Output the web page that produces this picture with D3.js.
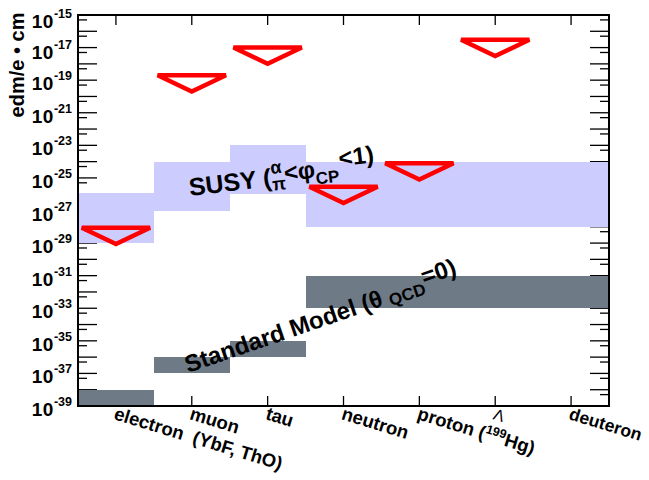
<!DOCTYPE html>
<html><head><meta charset="utf-8">
<script src="https://cdn.jsdelivr.net/npm/d3@7"></script>
<style>body{margin:0;background:#fff}svg{display:block}text{font-family:"Liberation Sans",Arial,sans-serif}</style>
</head><body>
<svg id="c" width="649" height="480"></svg>
<script>
const categories = ["electron", "muon", "tau", "neutron", "proton", "Λ", "deuteron"];
const catPos = [1, 2, 3, 4, 5, 6, 7];
const susyLow  = [1e-29, 1e-27, 1e-26, 1e-28, 1e-28, 1e-28, 1e-28];
const susyHigh = [1.2e-26, 1e-24, 1e-23, 1e-24, 1e-24, 1e-24, 1e-24];
const smLow  = [1e-39, 1e-37, 1e-36, 1e-33, 1e-33, 1e-33, 1e-33];
const smHigh = [1e-38, 1e-36, 1e-35, 1e-31, 1e-31, 1e-31, 1e-31];
const limits = [8.7e-29, 2e-19, 1e-17, 2.9e-26, 7.9e-25, 3e-17, null];
const yMajorExp = d3.range(-15, -40, -1);
const yLabelExp = [-15, -17, -19, -21, -23, -25, -27, -29, -31, -33, -35, -37, -39];

const svg = d3.select("#c");
const L = 78, R = 609, T = 15, B = 406;
const x = d3.scaleLinear().domain([0.5, 7.5]).range([L, R]);
const y = d3.scaleLog().domain([1e-39, 1e-15]).range([B, T]);

// ticks
const tk = svg.append("g").attr("stroke", "#000").attr("stroke-width", 1.3);
yMajorExp.forEach(e => {
  const v = Math.pow(10, e);
  tk.append("line").attr("x1", L).attr("x2", L + 19).attr("y1", y(v)).attr("y2", y(v));
  tk.append("line").attr("x1", R).attr("x2", R - 19).attr("y1", y(v)).attr("y2", y(v));
  const m = 5 * Math.pow(10, e - 1);
  if (m > 1e-39) {
    tk.append("line").attr("x1", L).attr("x2", L + 9).attr("y1", y(m)).attr("y2", y(m));
    tk.append("line").attr("x1", R).attr("x2", R - 9).attr("y1", y(m)).attr("y2", y(m));
  }
});
catPos.forEach(c => {
  tk.append("line").attr("x1", x(c)).attr("x2", x(c)).attr("y1", B).attr("y2", B - 10);
  tk.append("line").attr("x1", x(c)).attr("x2", x(c)).attr("y1", T).attr("y2", T + 10);
});

// bands
svg.append("g").selectAll("rect").data(catPos).join("rect")
  .attr("x", (c) => x(c - 0.5)).attr("width", (c) => x(c + 0.5) - x(c - 0.5))
  .attr("y", (c, i) => y(susyHigh[i])).attr("height", (c, i) => y(susyLow[i]) - y(susyHigh[i]))
  .attr("fill", "#ccccff").attr("shape-rendering", "crispEdges");
svg.append("g").selectAll("rect").data(catPos).join("rect")
  .attr("x", (c) => x(c - 0.5)).attr("width", (c) => x(c + 0.5) - x(c - 0.5))
  .attr("y", (c, i) => y(smHigh[i])).attr("height", (c, i) => y(smLow[i]) - y(smHigh[i]))
  .attr("fill", "#6e7b87").attr("shape-rendering", "crispEdges");

// frame
svg.append("rect").attr("x", L).attr("y", T).attr("width", R - L).attr("height", B - T)
  .attr("fill", "none").attr("stroke", "#000").attr("stroke-width", 2);

// limit triangles
const tri = catPos.map((c, i) => limits[i] == null ? null : [
  [x(c - 0.45), y(limits[i])], [x(c + 0.45), y(limits[i])], [x(c), y(limits[i] / 10)]
]).filter(d => d);
svg.append("g").selectAll("path").data(tri).join("path")
  .attr("d", d => d3.line()(d) + "Z")
  .attr("fill", "none").attr("stroke", "#ff0000").attr("stroke-width", 4.5).attr("stroke-linejoin", "miter");

// y tick labels
yLabelExp.forEach(e => {
  const t = svg.append("text").attr("x", 72).attr("y", y(Math.pow(10, e)) + (e === -15 ? 13 : e === -17 ? 11.5 : 10))
    .attr("text-anchor", "end").attr("font-weight", "bold").attr("font-size", 19);
  t.append("tspan").attr("letter-spacing", 0.5).text("10");
  t.append("tspan").attr("dy", -10).attr("font-size", 12.5).text(String(e));
});

// y title
svg.append("text").attr("transform", "translate(24,65) rotate(-90)")
  .attr("text-anchor", "middle").attr("font-weight", "bold").attr("font-size", 20)
  .text("edm/e • cm");

// x labels
catPos.forEach((c, i) => {
  const g = svg.append("text").attr("transform", `translate(${x(c) - 3},419) rotate(17)`)
    .attr("font-weight", "bold").attr("font-size", 18.5);
  if (i === 0) {
    g.attr("xml:space", "preserve").text("electron  (YbF, ThO)");
  } else if (i === 4) {
    g.append("tspan").text("proton (");
    g.append("tspan").attr("dy", -7).attr("font-size", 12.5).text("199");
    g.append("tspan").attr("dy", 7).text("Hg)");
  } else if (i === 5) {
    g.attr("font-weight", "normal").attr("font-size", 16).attr("font-family", "Liberation Serif, serif")
      .text(categories[i]);
  } else if (i === 6) {
    g.attr("font-size", 17.5).text(categories[i]);
  } else {
    g.text(categories[i]);
  }
});

// SUSY annotation
const s = svg.append("g").attr("transform", "translate(190,196) rotate(-7)")
  .attr("font-weight", "bold");
s.append("text").attr("font-size", 25).attr("x", 0).attr("y", 0).text("SUSY (");
s.append("text").attr("font-size", 18).attr("x", 83).attr("y", -12).text("α");
s.append("text").attr("font-size", 18).attr("x", 83).attr("y", 5).text("π");
s.append("text").attr("font-size", 24).attr("x", 96).attr("y", -3).text("<φ");
s.append("text").attr("font-size", 17).attr("x", 127).attr("y", 4).text("CP");
s.append("text").attr("font-size", 24).attr("x", 152).attr("y", -11).text("<1)");

// Standard Model annotation
const sm = svg.append("g").attr("transform", "translate(188,373) rotate(-19)")
  .attr("font-weight", "bold");
sm.append("text").attr("font-size", 24).attr("x", 0).attr("y", 0).text("Standard Model (θ");
sm.append("text").attr("font-size", 17).attr("x", 214).attr("y", 3).text("QCD");
sm.append("text").attr("font-size", 24).attr("x", 252).attr("y", -6).text("=0)");
</script>
</body></html>
